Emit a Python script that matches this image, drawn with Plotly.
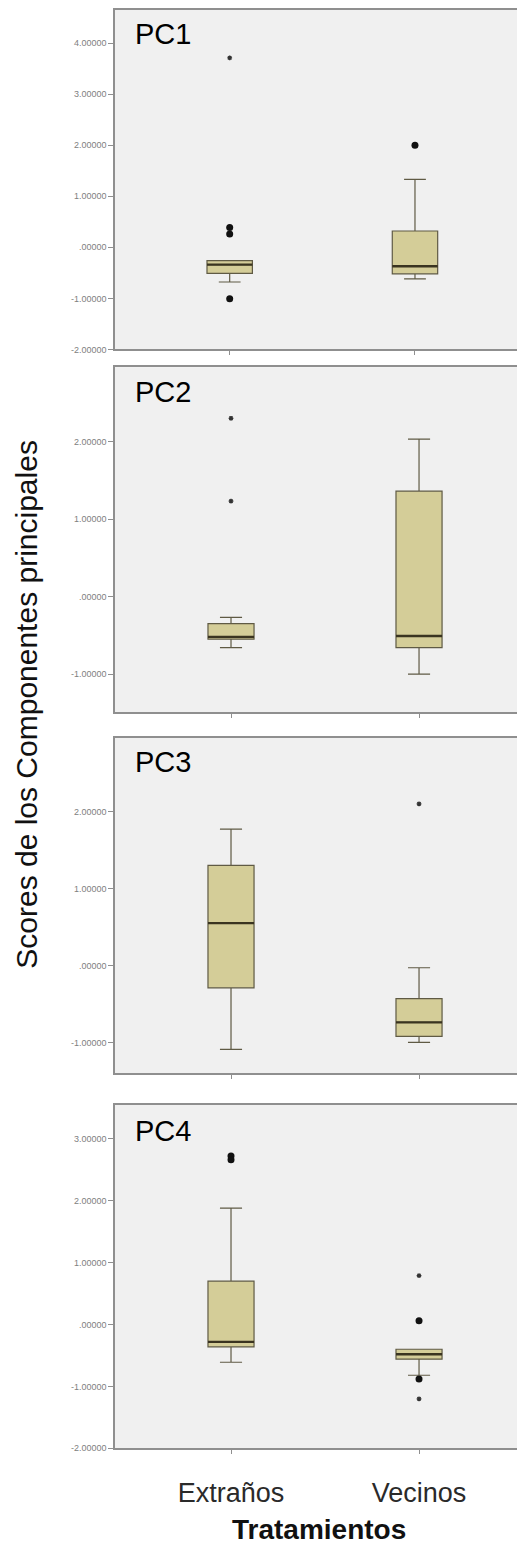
import plotly.graph_objects as go

# page body has an 8px default margin: figure is sized/offset to fit the 525x1549 window
OFF = 8
W, H = 525 - OFF, 1549 - OFF
FONT = "Liberation Sans, Arial, sans-serif"

categories = ["Extraños", "Vecinos"]
panels = ["PC1", "PC2", "PC3", "PC4"]

# Box statistics per component: [Extraños, Vecinos]
q1 = {"PC1": [-0.51, -0.52], "PC2": [-0.55, -0.66], "PC3": [-0.29, -0.92], "PC4": [-0.36, -0.56]}
median = {"PC1": [-0.34, -0.37], "PC2": [-0.52, -0.51], "PC3": [0.55, -0.74], "PC4": [-0.28, -0.48]}
q3 = {"PC1": [-0.26, 0.32], "PC2": [-0.35, 1.36], "PC3": [1.30, -0.43], "PC4": [0.70, -0.40]}
lowerfence = {"PC1": [-0.68, -0.62], "PC2": [-0.66, -1.00], "PC3": [-1.09, -1.00], "PC4": [-0.61, -0.82]}
upperfence = {"PC1": [-0.26, 1.33], "PC2": [-0.27, 2.03], "PC3": [1.77, -0.03], "PC4": [1.88, -0.40]}

# Outliers (circles) and extremes (asterisks): (category, value)
outliers = {
    "PC1": [("Extraños", 0.39), ("Extraños", 0.26), ("Extraños", -1.01), ("Vecinos", 2.00)],
    "PC2": [],
    "PC3": [],
    "PC4": [("Extraños", 2.72), ("Extraños", 2.66), ("Vecinos", 0.06), ("Vecinos", -0.88)],
}
extremes = {
    "PC1": [("Extraños", 3.71)],
    "PC2": [("Extraños", 2.30), ("Extraños", 1.23)],
    "PC3": [("Vecinos", 2.10)],
    "PC4": [("Vecinos", 0.79), ("Vecinos", -1.20)],
}

y_ticks = {
    "PC1": [-2, -1, 0, 1, 2, 3, 4],
    "PC2": [-1, 0, 1, 2],
    "PC3": [-1, 0, 1, 2],
    "PC4": [-2, -1, 0, 1, 2, 3],
}
y_ranges = {"PC1": [-2.0, 4.65], "PC2": [-1.49, 2.96], "PC3": [-1.40, 2.96], "PC4": [-2.0, 3.55]}
x_ranges = {"PC1": [-0.619, 1.583], "PC2": [-0.617, 1.553], "PC3": [-0.617, 1.553], "PC4": [-0.617, 1.553]}

# panel pixel extents in the window (top, bottom)
panel_px = {"PC1": (10, 350.5), "PC2": (368.3, 714.3), "PC3": (740, 1076.7), "PC4": (1108.3, 1453)}
label_px = {"PC1": 34.5, "PC2": 393, "PC3": 764.5, "PC4": 1135}


def fmt(v):
    if v == 0:
        return ".00000"
    return f"{v:.5f}"


def px(p):
    return (p - OFF) / W


def py(p):
    return 1 - (p - OFF) / H


fig = go.Figure()
layout = dict(
    width=W, height=H,
    margin=dict(l=0, r=0, t=0, b=0),
    paper_bgcolor="white",
    plot_bgcolor="#f0f0f0",
    showlegend=False,
    font=dict(family=FONT),
)

x_dom = [px(115), px(523)]
annotations = []

for i, pc in enumerate(panels, start=1):
    xa = "x" if i == 1 else f"x{i}"
    ya = "y" if i == 1 else f"y{i}"
    fig.add_trace(go.Box(
        x=categories,
        q1=q1[pc], median=median[pc], q3=q3[pc],
        lowerfence=lowerfence[pc], upperfence=upperfence[pc],
        boxpoints=False,
        width=0.245, whiskerwidth=0.48,
        fillcolor="#d4cd98",
        line=dict(color="#5f5a44", width=1.2),
        xaxis=xa, yaxis=ya, hoverinfo="skip",
    ))
    # heavier median line, drawn as a flat box at the median
    fig.add_trace(go.Box(
        x=categories,
        q1=median[pc], median=median[pc], q3=median[pc],
        lowerfence=median[pc], upperfence=median[pc],
        boxpoints=False,
        width=0.245, whiskerwidth=0.0,
        fillcolor="rgba(0,0,0,0)",
        line=dict(color="#3a3420", width=2.4),
        xaxis=xa, yaxis=ya, hoverinfo="skip",
    ))
    if outliers[pc]:
        fig.add_trace(go.Scatter(
            x=[c for c, _ in outliers[pc]], y=[v for _, v in outliers[pc]],
            mode="markers", marker=dict(symbol="circle", size=7, color="#111111"),
            xaxis=xa, yaxis=ya, hoverinfo="skip",
        ))
    if extremes[pc]:
        fig.add_trace(go.Scatter(
            x=[c for c, _ in extremes[pc]], y=[v for _, v in extremes[pc]],
            mode="markers",
            marker=dict(symbol="asterisk-open", size=4, color="#333333",
                        line=dict(width=1.3, color="#333333")),
            xaxis=xa, yaxis=ya, hoverinfo="skip",
        ))

    top, bot = panel_px[pc]
    last = (i == 4)
    layout["xaxis" if i == 1 else f"xaxis{i}"] = dict(
        domain=x_dom, anchor=ya, type="category",
        categoryorder="array", categoryarray=categories,
        range=x_ranges[pc],
        showline=True, linecolor="#8f8f8f", linewidth=1.5, mirror=True,
        ticks="outside", ticklen=4, tickcolor="#8f8f8f",
        showticklabels=last, ticklabelstandoff=16 if last else 0,
        tickfont=dict(family=FONT, size=27, color="#2a2a2a"),
        showgrid=False, zeroline=False, fixedrange=True,
    )
    layout["yaxis" if i == 1 else f"yaxis{i}"] = dict(
        domain=[py(bot), py(top)], anchor=xa,
        range=y_ranges[pc],
        tickvals=y_ticks[pc], ticktext=[fmt(v) for v in y_ticks[pc]],
        showline=True, linecolor="#8f8f8f", linewidth=1.5, mirror=True,
        ticks="outside", ticklen=5, tickcolor="#8f8f8f",
        tickfont=dict(family=FONT, size=9, color="#808080"),
        showgrid=False, zeroline=False, fixedrange=True,
    )
    annotations.append(dict(
        text=pc, xref="paper", yref="paper", x=px(133), y=py(label_px[pc]),
        xanchor="left", yanchor="middle", showarrow=False,
        font=dict(family=FONT, size=29, color="#000000"),
    ))

annotations.append(dict(
    text="Scores de los Componentes principales", xref="paper", yref="paper",
    x=px(27), y=py(707), xanchor="center", yanchor="middle", textangle=-90,
    showarrow=False, font=dict(family=FONT, size=30, color="#111111"),
))
annotations.append(dict(
    text="<b>Tratamientos</b>", xref="paper", yref="paper",
    x=px(319), y=py(1534), xanchor="center", yanchor="middle",
    showarrow=False, font=dict(family=FONT, size=28, color="#111111"),
))
layout["annotations"] = annotations

fig.update_layout(**layout)
fig.write_html("out.html")
